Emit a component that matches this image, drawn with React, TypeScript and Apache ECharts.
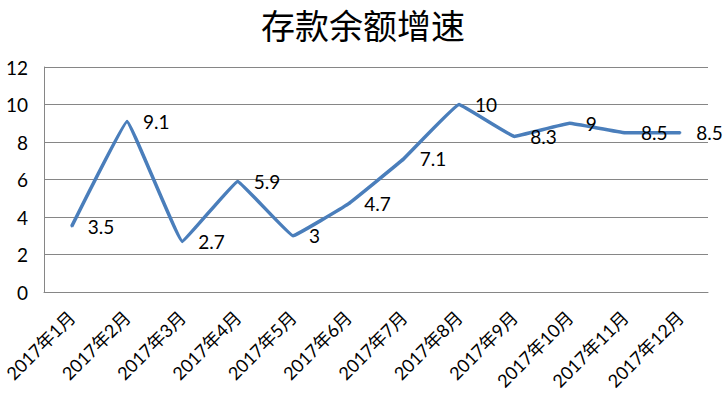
import React, { useEffect, useRef } from "react";
import * as echarts from "echarts";

const categories = ["2017年1月", "2017年2月", "2017年3月", "2017年4月", "2017年5月", "2017年6月", "2017年7月", "2017年8月", "2017年9月", "2017年10月", "2017年11月", "2017年12月"];
const values = [3.5, 9.1, 2.7, 5.9, 3, 4.7, 7.1, 10, 8.3, 9, 8.5, 8.5];
const titleText = "存款余额增速";

export default function App() {
  const ref = useRef<HTMLDivElement>(null);
  useEffect(() => {
    const chart = echarts.init(ref.current!, null, { renderer: "svg" });
    const font = "Lato, 'Noto Sans CJK SC', sans-serif";
    chart.setOption({
      animation: false,
      backgroundColor: "#ffffff",
      title: {
        text: titleText,
        left: "center",
        top: 6,
        padding: 0,
        textStyle: { fontFamily: "'Noto Sans CJK SC', serif", fontSize: 34, lineHeight: 36, fontWeight: "normal", color: "#000" },
      },
      grid: { left: 44, right: 18, top: 67, bottom: 107, containLabel: false },
      xAxis: {
        type: "category",
        data: categories,
        boundaryGap: true,
        axisLine: { lineStyle: { color: "#868686", width: 1 } },
        axisTick: { show: false },
        axisLabel: { rotate: 45, color: "#000", fontSize: 18, fontFamily: font, margin: 22, interval: 0 },
      },
      yAxis: {
        type: "value",
        min: 0,
        max: 12,
        interval: 2,
        axisLine: { show: true, lineStyle: { color: "#868686", width: 1 } },
        axisTick: { show: false },
        splitLine: { lineStyle: { color: "#868686", width: 1 } },
        axisLabel: { color: "#000", fontSize: 19, fontFamily: font, margin: 16 },
      },
      series: [
        {
          type: "line",
          data: values,
          smooth: 0.06,
          symbol: "circle",
          symbolSize: 2,
          showSymbol: true,
          itemStyle: { color: "#4a7ebb" },
          lineStyle: { color: "#4a7ebb", width: 3.5 },
          label: {
            show: true,
            position: "right",
            distance: 15,
            offset: [0, 3],
            color: "#000",
            fontSize: 19,
            fontFamily: font,
          },
          labelLayout: { hideOverlap: false },
        },
      ],
    });
    return () => chart.dispose();
  }, []);
  return <div ref={ref} style={{ width: 726, height: 399, position: "absolute", left: 0, top: 0 }} />;
}
